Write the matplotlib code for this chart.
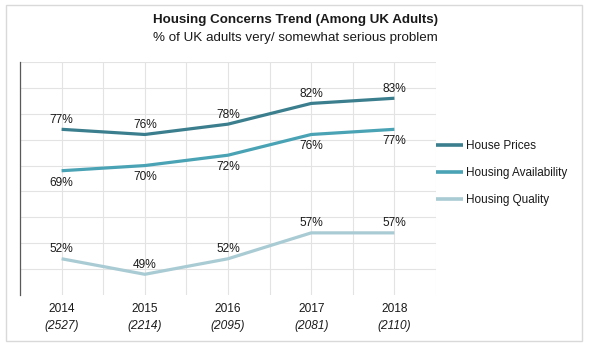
import matplotlib
matplotlib.use("Agg")
import matplotlib.pyplot as plt
from matplotlib.patches import Rectangle

years = ["2014", "2015", "2016", "2017", "2018"]
samples = ["(2527)", "(2214)", "(2095)", "(2081)", "(2110)"]
house_prices = [77, 76, 78, 82, 83]
availability = [69, 70, 72, 76, 77]
quality = [52, 49, 52, 57, 57]

series_names = ["House Prices", "Housing Availability", "Housing Quality"]
colors = ["#3b7e8d", "#4aa3b4", "#a9cbd3"]

plt.rcParams['font.family'] = ['Liberation Sans', 'DejaVu Sans']

W, H = 591, 352
fig = plt.figure(figsize=(W / 100, H / 100), dpi=100)
fig.patch.set_facecolor("white")

# outer border
fig.patches.append(Rectangle((6 / W, 1 - 341 / H), 576 / W, 336 / H,
                             transform=fig.transFigure, fill=False,
                             edgecolor="#d9d9d9", linewidth=1.0))

ax = fig.add_axes([20 / W, 1 - 295 / H, (436 - 20) / W, (295 - 62) / H])

x = list(range(len(years)))
series = [house_prices, availability, quality]
offsets = [6.5, -8.5, 6.8]
for vals, name, c, off in zip(series, series_names, colors, offsets):
    ax.plot(x, vals, color=c, linewidth=2.3, label=name, solid_capstyle="butt")
    for xi, v in zip(x, vals):
        ax.annotate(f"{v}%", (xi, v), xytext=(0, off), textcoords="offset points",
                    ha="center", va="center", fontsize=8.6, color="#1a1a1a")

ax.set_xlim(-0.5, 4.5)
ax.set_ylim(45, 90)
ax.set_yticks(range(50, 91, 5))
ax.set_xticks([i * 0.5 - 0.5 for i in range(11)])
ax.tick_params(axis="both", length=0, labelleft=False, labelbottom=False)
ax.grid(True, color="#e3e3e3", linewidth=0.8)
ax.set_axisbelow(True)
for s in ["top", "right", "bottom"]:
    ax.spines[s].set_visible(False)
ax.spines["left"].set_color("#595959")
ax.spines["left"].set_linewidth(0.9)

for xi, yr, sm in zip(x, years, samples):
    ax.annotate(yr, (xi, 0), xycoords=("data", "axes fraction"),
                xytext=(0, -10), textcoords="offset points",
                ha="center", va="center", fontsize=8.6, color="#1a1a1a")
    ax.annotate(sm, (xi, 0), xycoords=("data", "axes fraction"),
                xytext=(0, -22.5), textcoords="offset points",
                ha="center", va="center", fontsize=8.6, style="italic",
                color="#1a1a1a")

fig.text(0.5, 1 - 20 / H, "Housing Concerns Trend (Among UK Adults)",
         ha="center", va="center", fontsize=9.6, fontweight="bold", color="#1a1a1a")
fig.text(0.5, 1 - 38 / H, "% of UK adults very/ somewhat serious problem",
         ha="center", va="center", fontsize=9.6, color="#1a1a1a")

leg = ax.legend(loc="center left", bbox_to_anchor=(1.0, 1 - (173 - 62) / (295 - 62)),
                frameon=False, fontsize=8.5, handlelength=2.3, handletextpad=0.2,
                borderaxespad=0, borderpad=0, labelspacing=1.3)
for t in leg.get_texts():
    t.set_color("#1a1a1a")
for l in leg.get_lines():
    l.set_linewidth(2.6)

fig.savefig("out.png", dpi=100)
